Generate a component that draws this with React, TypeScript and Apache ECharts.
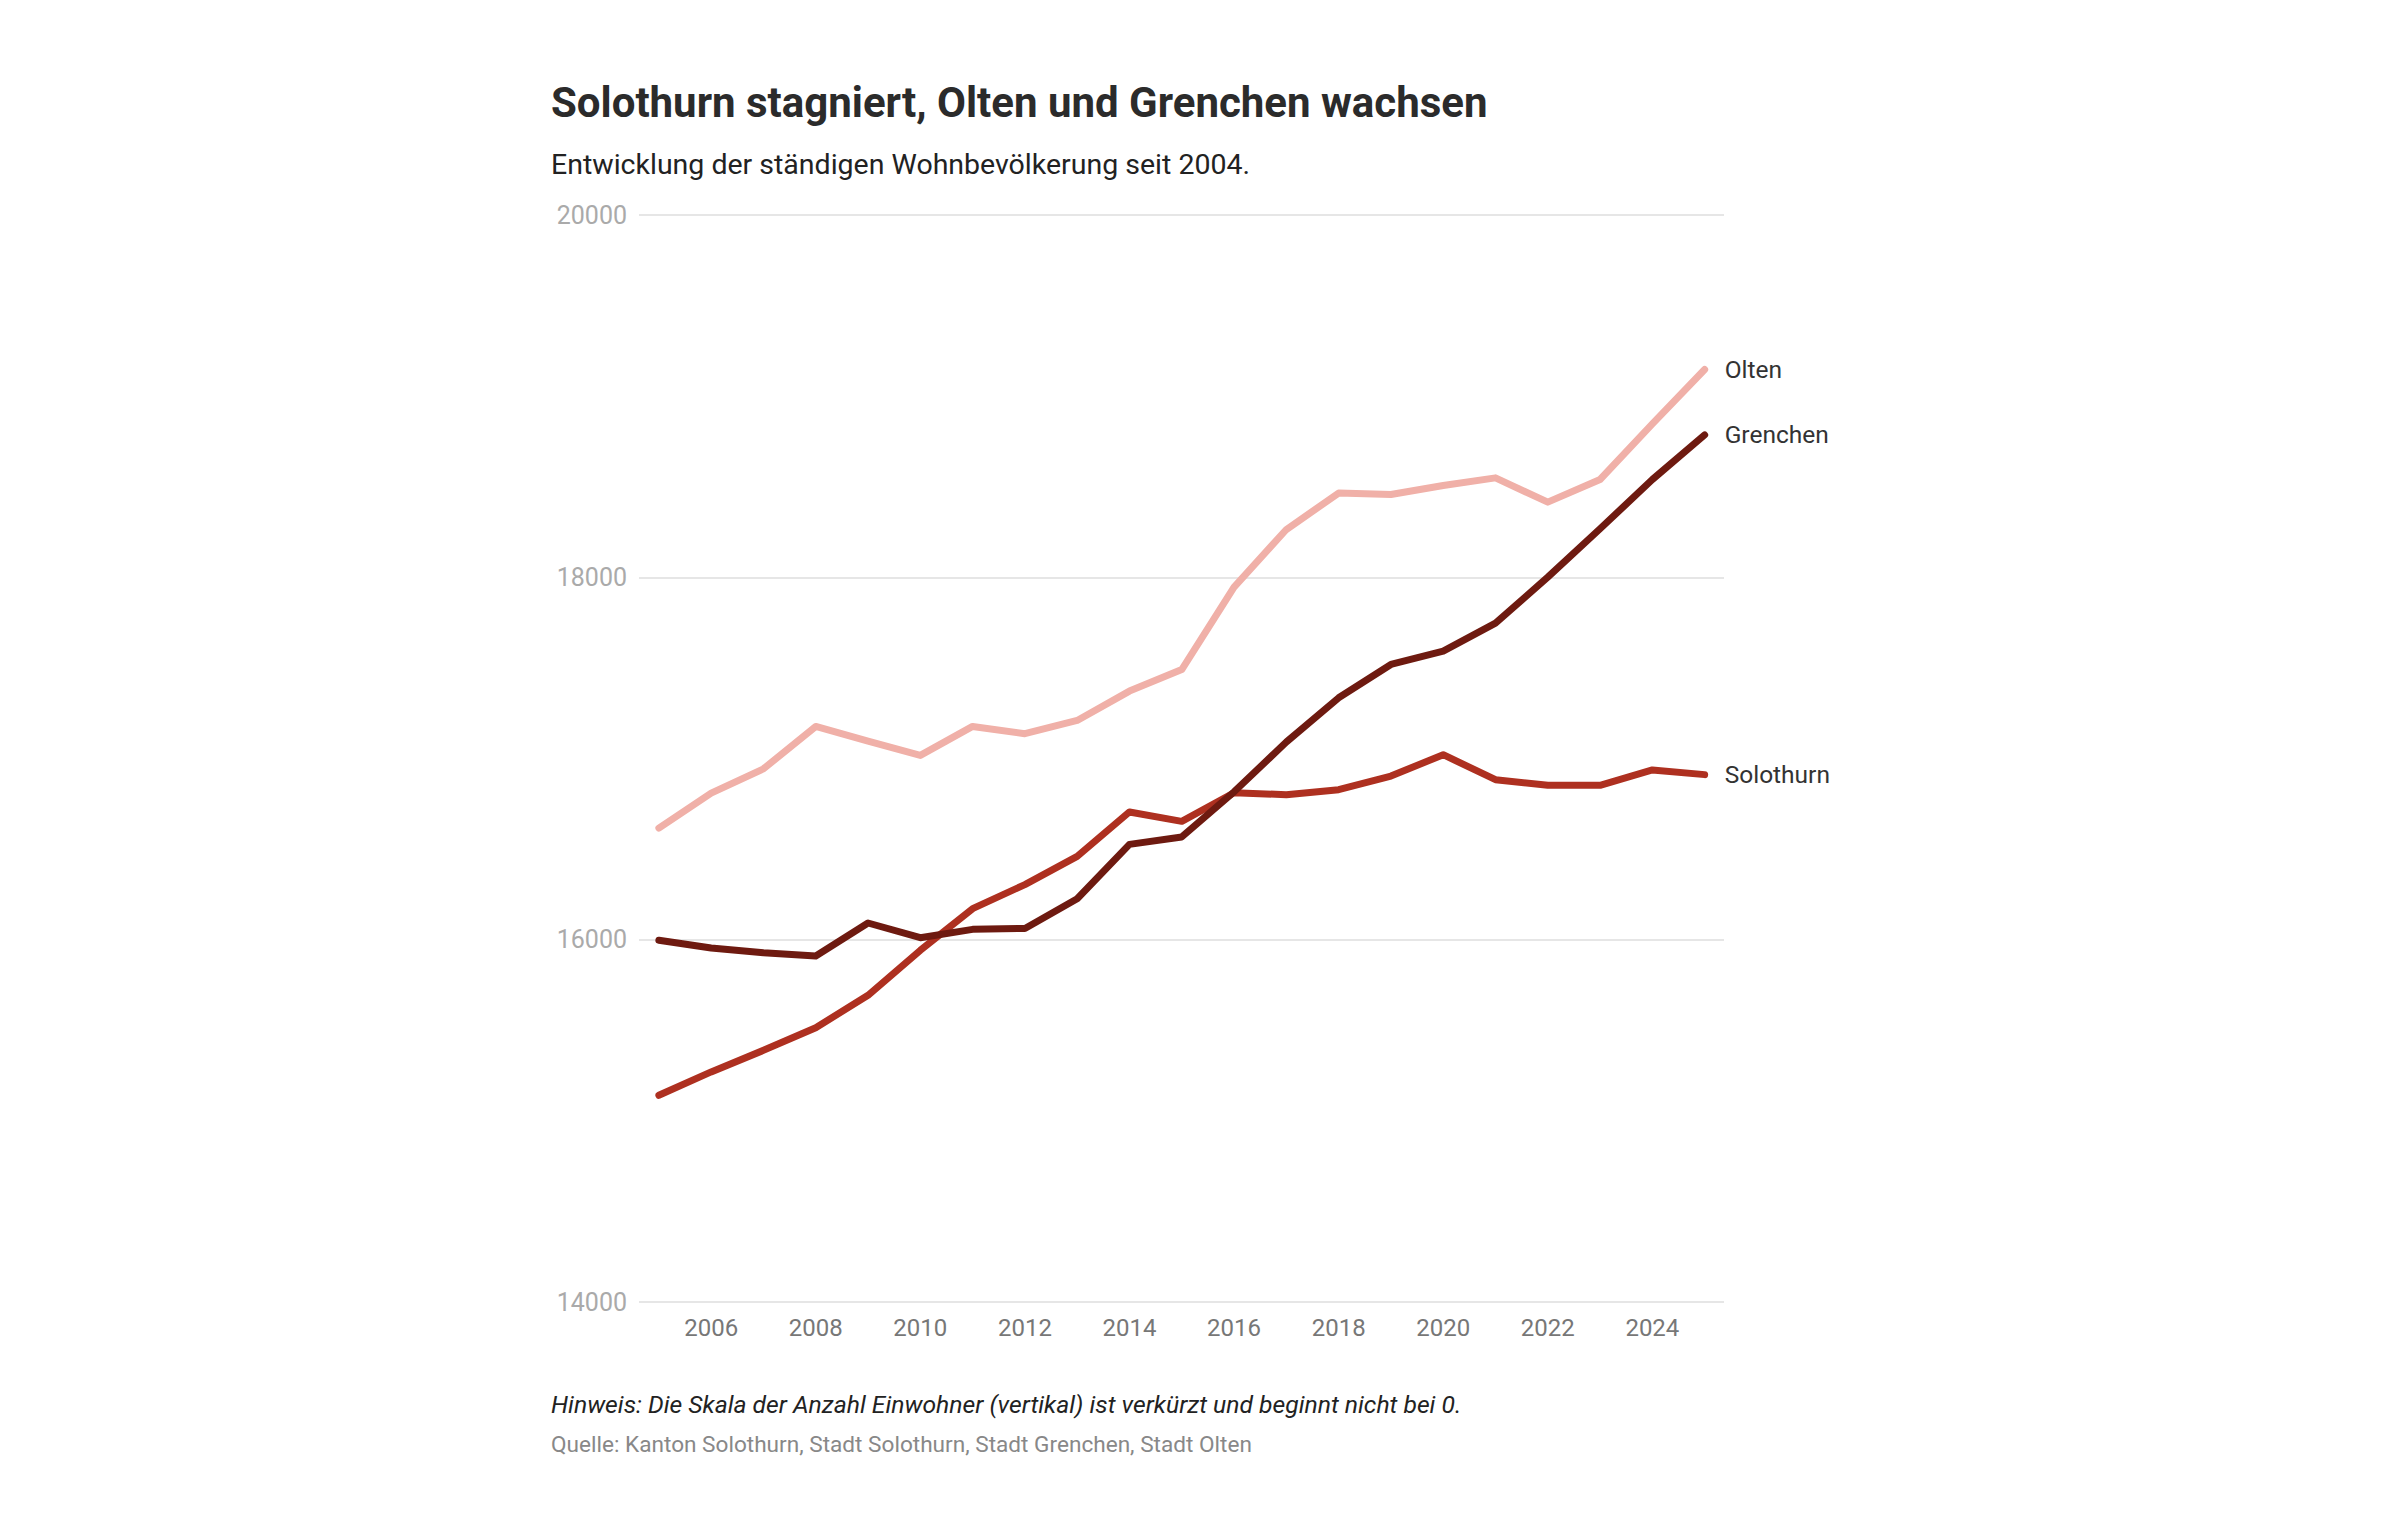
import React, { useEffect, useRef } from 'react';
import * as echarts from 'echarts';

const years = [2005, 2006, 2007, 2008, 2009, 2010, 2011, 2012, 2013, 2014, 2015, 2016, 2017, 2018, 2019, 2020, 2021, 2022, 2023, 2024, 2025];
const olten = [16616, 16809, 16943, 17177, 17096, 17017, 17177, 17137, 17210, 17372, 17491, 17946, 18264, 18465, 18457, 18507, 18549, 18415, 18540, 18847, 19147];
const grenchen = [15997, 15954, 15928, 15910, 16092, 16011, 16057, 16062, 16226, 16526, 16567, 16816, 17091, 17335, 17519, 17593, 17747, 18001, 18268, 18540, 18786];
const solothurn = [15141, 15270, 15389, 15514, 15693, 15941, 16171, 16304, 16460, 16705, 16653, 16811, 16800, 16828, 16903, 17021, 16883, 16852, 16852, 16937, 16911];
const xTicks = [2006, 2008, 2010, 2012, 2014, 2016, 2018, 2020, 2022, 2024];

const FONT = 'Roboto, "Noto Sans", sans-serif';

const lineSeries = (name: string, values: number[], color: string) => ({
  name,
  type: 'line',
  data: years.map((y, i) => [y, values[i]]),
  symbol: 'none',
  lineStyle: { color, width: 7, cap: 'round', join: 'round' },
  itemStyle: { color },
  endLabel: {
    show: true,
    formatter: name,
    color: '#333',
    fontSize: 24.5,
    fontFamily: FONT,
    distance: 20,
  },
});

const App: React.FC = () => {
  const chartRef = useRef<HTMLDivElement>(null);

  useEffect(() => {
    document.body.style.margin = '0';
    if (!chartRef.current) return;
    const chart = echarts.init(chartRef.current, null, { renderer: 'svg' });
    chart.setOption({
      animation: false,
      backgroundColor: '#fff',
      textStyle: { fontFamily: FONT },
      grid: { left: 639, right: 672, top: 215, bottom: 234 },
      graphic: [
        {
          type: 'text',
          left: 551,
          top: 81,
          style: { text: 'Solothurn stagniert, Olten und Grenchen wachsen', fontSize: 42, fontWeight: 'bold', fill: '#2b2b2b', fontFamily: FONT },
        },
        {
          type: 'text',
          left: 551,
          top: 150,
          style: { text: 'Entwicklung der ständigen Wohnbevölkerung seit 2004.', fontSize: 28.5, fill: '#222', fontFamily: FONT },
        },
        {
          type: 'text',
          left: 551,
          top: 1392,
          style: { text: 'Hinweis: Die Skala der Anzahl Einwohner (vertikal) ist verkürzt und beginnt nicht bei 0.', fontSize: 24.7, fontStyle: 'italic', fill: '#222', fontFamily: FONT },
        },
        {
          type: 'text',
          left: 551,
          top: 1433,
          style: { text: 'Quelle: Kanton Solothurn, Stadt Solothurn, Stadt Grenchen, Stadt Olten', fontSize: 22.6, fill: '#888', fontFamily: FONT },
        },
      ],
      xAxis: {
        type: 'value',
        min: 2004.62,
        max: 2025.37,
        axisLine: { show: false },
        axisTick: { show: false },
        splitLine: { show: false },
        axisLabel: {
          customValues: xTicks,
          formatter: (v: number) => String(v),
          color: '#777',
          fontSize: 24,
          margin: 14,
          fontFamily: FONT,
        },
      },
      yAxis: {
        type: 'value',
        min: 14000,
        max: 20000,
        interval: 2000,
        axisLine: { show: false },
        axisTick: { show: false },
        splitLine: { lineStyle: { color: '#e6e6e6', width: 2 } },
        axisLabel: {
          formatter: (v: number) => String(v),
          color: '#aaa',
          fontSize: 25,
          margin: 12,
          fontFamily: FONT,
        },
      },
      series: [
        lineSeries('Olten', olten, '#f0b0a8'),
        lineSeries('Solothurn', solothurn, '#ae3020'),
        lineSeries('Grenchen', grenchen, '#6e1a10'),
      ],
    });
    return () => {
      chart.dispose();
    };
  }, []);

  return <div ref={chartRef} style={{ width: '2396px', height: '1536px' }} />;
};

export default App;
